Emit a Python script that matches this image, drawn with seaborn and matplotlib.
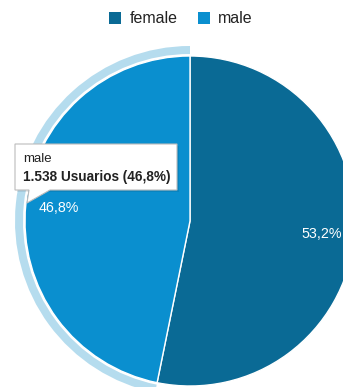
import matplotlib
matplotlib.use("Agg")
import matplotlib.pyplot as plt
from matplotlib.patches import Wedge, Polygon, Patch
import seaborn as sns

# Users by gender
genders = ["female", "male"]
users = [1748, 1538]
colors = ["#0a6a95", "#0a8fcf"]
highlight = "#b5dcee"
metric_label = "Usuarios"
hovered = "male"

sns.set_theme(style="white")
plt.rcParams["font.family"] = ["Liberation Sans", "DejaVu Sans"]

W, H = 343, 387
fig = plt.figure(figsize=(W / 100, H / 100), dpi=100)
ax = fig.add_axes([0, 0, 1, 1])

cx, cy, r = 190, H - 221, 165


def fmt_pct(p):
    return f"{p:.1f}%".replace(".", ",")


# highlight ring around the hovered slice
total = sum(users)
start = 90.0
angles = {}
for g, v in zip(genders, users):
    end = start - v / total * 360.0
    angles[g] = (end % 360, start % 360)
    start = end
t1, t2 = angles[hovered]
if t2 <= t1:
    t1, t2 = t2, t1
ax.add_patch(Wedge((cx, cy), r + 10, t1, t2, width=8,
                   facecolor=highlight, edgecolor="none", zorder=1))

wedges, texts, autotexts = ax.pie(
    users, colors=colors, startangle=90, counterclock=False,
    center=(cx, cy), radius=r, autopct=fmt_pct, pctdistance=0.8,
    wedgeprops=dict(edgecolor="white", linewidth=1.0),
    textprops=dict(color="white", fontsize=10.3),
)
for w in wedges:
    w.set_zorder(2)
for t in autotexts:
    t.set_zorder(3)

ax.set_xlim(0, W)
ax.set_ylim(0, H)
ax.set_aspect("equal")
ax.axis("off")

# legend
handles = [Patch(facecolor=c, edgecolor="none", label=g) for g, c in zip(genders, colors)]
ax.legend(handles=handles, loc="upper center", bbox_to_anchor=(181 / W, (H + 3) / H),
          ncol=2, frameon=False, fontsize=11.5, handlelength=0.75, handleheight=0.75,
          handletextpad=0.5, columnspacing=1.3, labelcolor="#222222")

# tooltip for the hovered slice
bx0, bx1, by0, by1 = 15, 177, H - 190, H - 144
shadow = Polygon([(bx0 + 1.5, by0 - 1.5), (bx1 + 1.5, by0 - 1.5), (bx1 + 1.5, by1 - 1.5),
                  (bx0 + 1.5, by1 - 1.5)], closed=True, facecolor="#000000", alpha=0.08,
                 edgecolor="none", zorder=4)
ax.add_patch(shadow)
tip = Polygon([(bx0, by1), (bx1, by1), (bx1, by0), (50, by0), (27, H - 203), (29, by0), (bx0, by0)],
              closed=True, facecolor="white", edgecolor="#bbbbbb", linewidth=0.8, zorder=5)
ax.add_patch(tip)
hv = users[genders.index(hovered)]
hv_pct = fmt_pct(hv / total * 100)
hv_txt = f"{hv:,}".replace(",", ".")
ax.text(23, H - 159, hovered, fontsize=9.5, color="#222222", va="center", ha="left", zorder=6)
ax.text(23, H - 177, f"{hv_txt} {metric_label} ({hv_pct})", fontsize=9.8, fontweight="bold",
        color="#222222", va="center", ha="left", zorder=6)

fig.savefig("out.png", dpi=100)
